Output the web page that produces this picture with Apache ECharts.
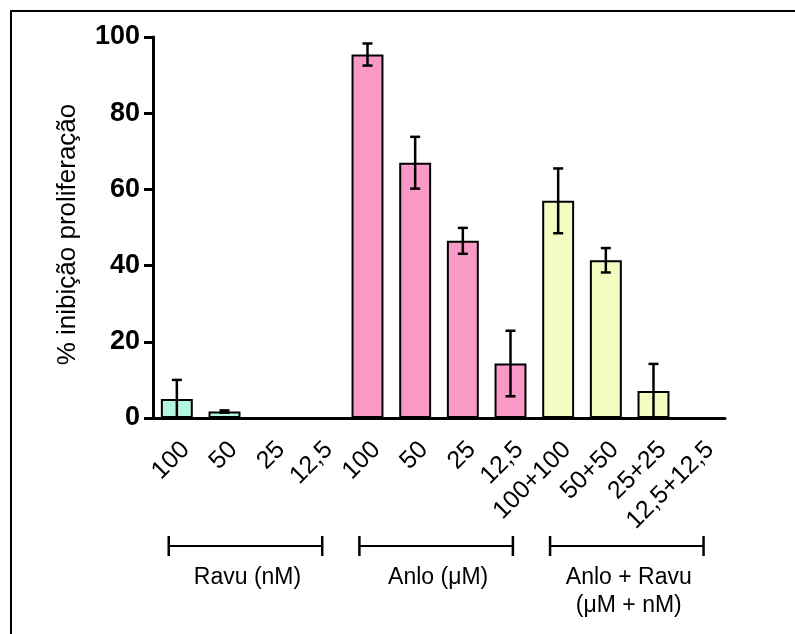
<!DOCTYPE html>
<html>
<head>
<meta charset="utf-8">
<script src="https://cdn.jsdelivr.net/npm/echarts@6/dist/echarts.min.js"></script>
<style>
  html, body { margin: 0; padding: 0; background: #fff; }
  #chart { width: 795px; height: 634px; }
</style>
</head>
<body>
<div id="chart"></div>
<script>
// Proliferation inhibition per treatment (mean ± error)
const categories = ['100', '50', '25', '12,5', '100', '50', '25', '12,5',
                    '100+100', '50+50', '25+25', '12,5+12,5'];
const meanValues = [5.0, 1.7, 0, 0, 95.4, 67.0, 46.5, 14.3, 57.0, 41.4, 7.1, 0];
const errValues  = [5.0, 0.3, 0, 0, 2.9, 6.8, 3.4, 8.6, 8.5, 3.2, 7.1, 0];
const groupOfBar = [0, 0, 0, 0, 1, 1, 1, 1, 2, 2, 2, 2];
const groupNames = [['Ravu (nM)'], ['Anlo (\u03bcM)'], ['Anlo + Ravu', '(\u03bcM + nM)']];
const groupSpans = [[0, 3], [4, 7], [8, 11]];
const yTicks = { min: 0, max: 100, step: 20 };

const palette = ['#b4f6de', '#f899c7', '#f4fcc1'];
const FONT = "'Liberation Sans', Arial, Helvetica, sans-serif";

const chart = echarts.init(document.getElementById('chart'), null, { renderer: 'canvas' });

const barData = meanValues.map((v, i) => ({
  value: v,
  itemStyle: v > 0 ? { color: palette[groupOfBar[i]] } : { color: 'transparent', borderWidth: 0 }
}));
const errData = meanValues.map((v, i) => [i, Math.max(0, v - errValues[i]), v + errValues[i]])
  .filter((d, i) => errValues[i] > 0);

function renderError(params, api) {
  const x = api.value(0);
  const lo = api.coord([x, api.value(1)]);
  const hi = api.coord([x, api.value(2)]);
  const half = 5;
  const style = { stroke: '#000', lineWidth: 2.5 };
  return {
    type: 'group',
    children: [
      { type: 'line', shape: { x1: hi[0], y1: hi[1], x2: lo[0], y2: lo[1] }, style },
      { type: 'line', shape: { x1: hi[0] - half, y1: hi[1], x2: hi[0] + half, y2: hi[1] }, style },
      { type: 'line', shape: { x1: lo[0] - half, y1: lo[1], x2: lo[0] + half, y2: lo[1] }, style }
    ]
  };
}

chart.setOption({
  animation: false,
  backgroundColor: '#fff',
  grid: { left: 153, top: 37, width: 572, height: 381, containLabel: false },
  xAxis: {
    type: 'category',
    data: categories,
    axisLine: { lineStyle: { color: '#000', width: 3 } },
    axisTick: { alignWithLabel: true, length: 9, lineStyle: { color: '#000', width: 3 } },
    axisLabel: {
      rotate: 45, fontSize: 25, color: '#000', fontFamily: FONT,
      margin: 19, align: 'right', verticalAlign: 'top', interval: 0
    },
    z: 5
  },
  yAxis: {
    type: 'value',
    min: yTicks.min, max: yTicks.max, interval: yTicks.step,
    name: '% inibição proliferação',
    nameLocation: 'middle',
    nameGap: 72,
    nameTextStyle: { fontSize: 26, color: '#000', fontFamily: FONT, padding: [0, 14, 0, 0] },
    axisLine: { show: true, lineStyle: { color: '#000', width: 3 } },
    axisTick: { show: true, length: 9, lineStyle: { color: '#000', width: 3 } },
    axisLabel: { fontSize: 27, fontWeight: 'bold', color: '#000', fontFamily: FONT, margin: 13 },
    splitLine: { show: false },
    z: 5
  },
  series: [
    {
      type: 'bar',
      data: barData,
      barWidth: '67%',
      itemStyle: { borderColor: '#000', borderWidth: 2 },
      z: 2
    },
    {
      type: 'custom',
      data: errData,
      renderItem: renderError,
      encode: { x: 0, y: [1, 2] },
      z: 3
    }
  ]
});

// Group brackets and names under the category labels
function drawGroups() {
  const base = chart.convertToPixel({ yAxisIndex: 0 }, 0);
  const step = chart.convertToPixel({ xAxisIndex: 0 }, 1) - chart.convertToPixel({ xAxisIndex: 0 }, 0);
  const lineY = base + 128;
  const elements = [];
  const lineStyle = { stroke: '#000', lineWidth: 2 };
  groupSpans.forEach((span, g) => {
    const x0 = chart.convertToPixel({ xAxisIndex: 0 }, span[0]) - step * 0.17;
    const x1 = chart.convertToPixel({ xAxisIndex: 0 }, span[1]) + step * 0.05;
    elements.push({ type: 'line', shape: { x1: x0, y1: lineY, x2: x1, y2: lineY }, style: lineStyle });
    elements.push({ type: 'line', shape: { x1: x0, y1: lineY - 10, x2: x0, y2: lineY + 10 }, style: { stroke: '#000', lineWidth: 2.5 } });
    elements.push({ type: 'line', shape: { x1: x1, y1: lineY - 10, x2: x1, y2: lineY + 10 }, style: { stroke: '#000', lineWidth: 2.5 } });
    groupNames[g].forEach((txt, k) => {
      elements.push({
        type: 'text',
        x: (x0 + x1) / 2 + 2,
        y: lineY + 32 + k * 28,
        style: { text: txt, fontSize: 23, fontFamily: FONT, fill: '#000', align: 'center', verticalAlign: 'middle' }
      });
    });
  });
  // outer frame
  elements.push({
    type: 'rect',
    shape: { x: 11, y: 11, width: 800, height: 700 },
    style: { fill: 'none', stroke: '#000', lineWidth: 2 }
  });
  chart.setOption({ graphic: elements });
}
drawGroups();
</script>
</body>
</html>
